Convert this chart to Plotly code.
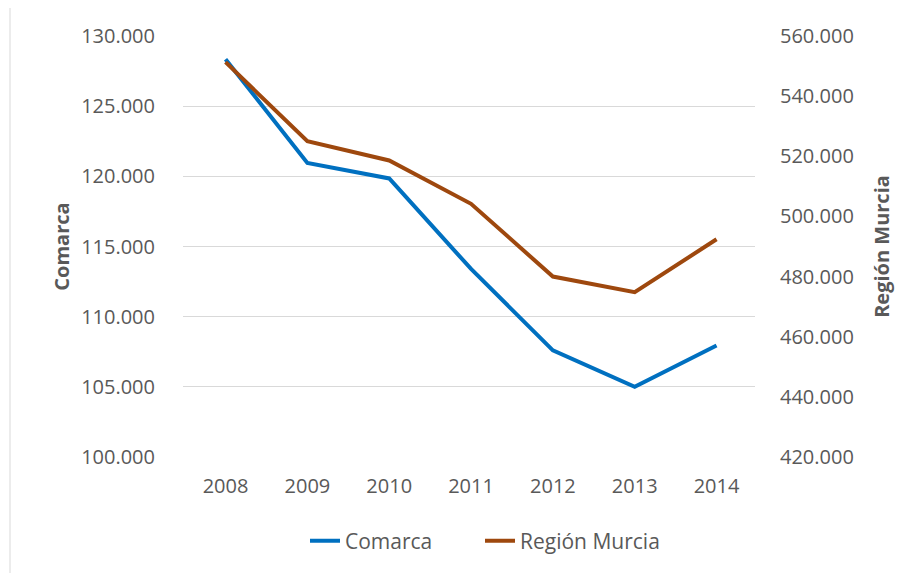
import plotly.graph_objects as go

years = ["2008", "2009", "2010", "2011", "2012", "2013", "2014"]
comarca = [128350, 120950, 119850, 113400, 107600, 105000, 107950]
region_murcia = [551300, 525000, 518600, 504200, 480000, 474800, 492400]

BLUE = "#0070C0"
BROWN = "#9E480E"
GRAY = "#595959"
FONT = "Open Sans"

OFF = 8  # page body margin
W, H = 909, 565
L, T = 183 - OFF, 36 - OFF
R, B = W - (755 - OFF), H - (457 - OFF)
pw, ph = W - L - R, H - T - B

def px_x(x):
    return (x - OFF - L) / pw

def px_y(y):
    return (H - B - (y - OFF)) / ph

fig = go.Figure()
fig.add_trace(go.Scatter(x=years, y=comarca, name="Comarca", mode="lines",
                         line=dict(color=BLUE, width=4), yaxis="y", legend="legend"))
fig.add_trace(go.Scatter(x=years, y=region_murcia, name="Región Murcia", mode="lines",
                         line=dict(color=BROWN, width=4), yaxis="y2", legend="legend2"))

legend_font = dict(family=FONT, size=21, color=GRAY)
fig.update_layout(
    width=W, height=H,
    margin=dict(l=L, r=R, t=T, b=B, autoexpand=False),
    paper_bgcolor="white", plot_bgcolor="white",
    separators=",.",
    font=dict(family=FONT, size=20, color=GRAY),
    showlegend=True,
    legend=dict(orientation="h", x=px_x(305), xanchor="left", y=px_y(541), yanchor="middle",
                font=legend_font, itemwidth=30),
    legend2=dict(orientation="h", x=px_x(480), xanchor="left", y=px_y(541), yanchor="middle",
                 font=legend_font, itemwidth=30),
    xaxis=dict(type="category", range=[-0.52, 6.47], showgrid=False, showline=False, zeroline=False,
               ticks="", ticklabelstandoff=15, tickfont=dict(size=20, color=GRAY)),
    yaxis=dict(range=[100000, 130000], dtick=5000, tick0=100000, tickformat=",d",
               showgrid=True, gridcolor="#d9d9d9", gridwidth=1, zeroline=False, showline=False,
               ticks="", ticklabelstandoff=27, tickfont=dict(size=20, color=GRAY),
               title=dict(text="Comarca", standoff=6,
                          font=dict(family=FONT, size=20, color=GRAY, weight="bold"))),
    yaxis2=dict(range=[420000, 560000], dtick=20000, tick0=420000, tickformat=",d",
                overlaying="y", side="right", showgrid=False, zeroline=False, showline=False,
                ticks="", ticklabelstandoff=24, tickfont=dict(size=20, color=GRAY),
                title=dict(text="Región Murcia", standoff=22,
                           font=dict(family=FONT, size=20, color=GRAY, weight="bold"))),
    shapes=[dict(type="rect", xref="paper", yref="paper",
                 x0=px_x(10), x1=px_x(912), y0=px_y(590), y1=px_y(7),
                 line=dict(color="#d9d9d9", width=1), fillcolor="rgba(0,0,0,0)", layer="below")],
)

fig.write_html("out.html")
